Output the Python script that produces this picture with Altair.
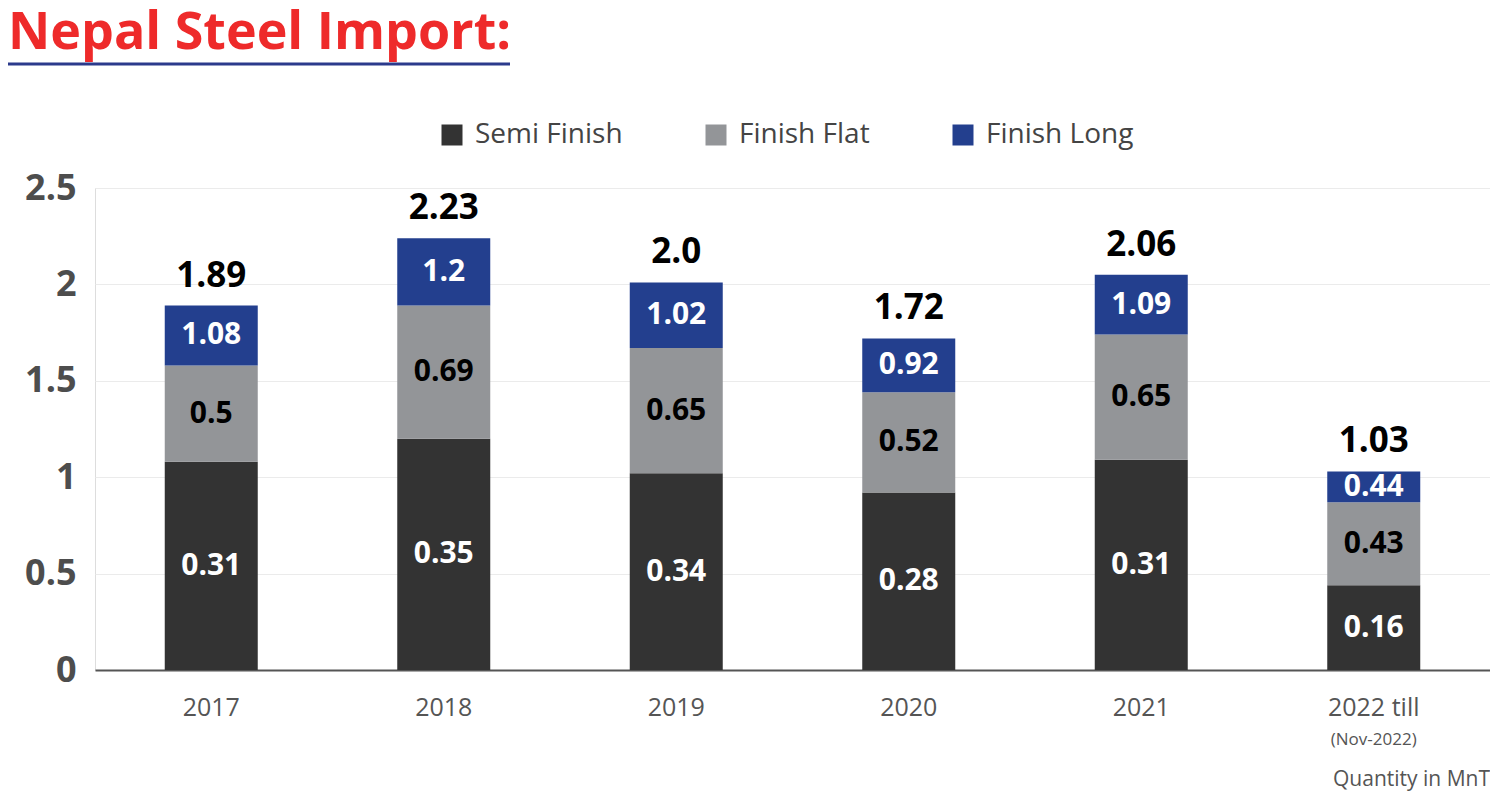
import altair as alt
import pandas as pd

FONT = "Open Sans"

years = ["2017", "2018", "2019", "2020", "2021", "2022 till"]
series = ["Semi Finish", "Finish Flat", "Finish Long"]
semi_finish = [0.31, 0.35, 0.34, 0.28, 0.31, 0.16]
finish_flat = [0.5, 0.69, 0.65, 0.52, 0.65, 0.43]
finish_long = [1.08, 1.2, 1.02, 0.92, 1.09, 0.44]
totals = [1.89, 2.23, 2.0, 1.72, 2.06, 1.03]
colors = ["#333333", "#939598", "#233F8E"]
label_colors = ["#ffffff", "#000000", "#ffffff"]

title_text = "Nepal Steel Import:"
note_text = "(Nov-2022)"
unit_text = "Quantity in MnT"

# In the source picture the bottom (dark) segment is drawn with the Finish Long
# size and the top (blue) one with the Semi Finish size, while their labels
# show the legend's series values.  Reproduce that as drawn.
rows = []
for i, yr in enumerate(years):
    heights = [finish_long[i], finish_flat[i], semi_finish[i]]
    labels = [semi_finish[i], finish_flat[i], finish_long[i]]
    base = 0.0
    for k, s in enumerate(series):
        rows.append(dict(year=yr, series=s, order=k, y0=base, y1=base + heights[k],
                         mid=base + heights[k] / 2, label=str(labels[k]),
                         lcolor=label_colors[k]))
        base += heights[k]
seg = pd.DataFrame(rows)
tops = seg.groupby("year", sort=False)["y1"].max().reindex(years).tolist()
tot = pd.DataFrame({"year": years, "top": tops, "label": [str(t) for t in totals]})

W, H = 1395, 482

xenc = alt.X("year:N", sort=years,
             scale=alt.Scale(paddingInner=0.6, paddingOuter=0.3),
             axis=alt.Axis(title=None, labelAngle=0, labelFontSize=25, labelFont=FONT,
                           labelColor="#555555", domainColor="#555555", domainWidth=2,
                           ticks=False, labelPadding=25, grid=False))
yscale = alt.Scale(domain=[0, 2.5], nice=False)

bars = alt.Chart(seg).mark_bar().encode(
    x=xenc,
    y=alt.Y("y0:Q", scale=yscale,
            axis=alt.Axis(values=[0, 0.5, 1, 1.5, 2, 2.5], format="~g", title=None,
                          labelFontSize=36, labelFontWeight="bold", labelFont=FONT,
                          labelColor="#4D4D4D", domain=False, ticks=False, tickSize=0,
                          labelPadding=19, gridColor="#EBEBEB", gridWidth=1)),
    y2="y1:Q",
    color=alt.Color("series:N", scale=alt.Scale(domain=series, range=colors),
                    legend=alt.Legend(title=None, orient="none", legendX=343, legendY=-67,
                                      direction="horizontal", symbolType="square",
                                      symbolSize=441, symbolStrokeWidth=0,
                                      labelFontSize=28, labelFont=FONT,
                                      labelColor="#444444", columnPadding=79,
                                      labelOffset=9)),
)

seg_labels = alt.Chart(seg).mark_text(fontSize=30, fontWeight="bold", font=FONT,
                                      baseline="middle").encode(
    x=alt.X("year:N", sort=years),
    y=alt.Y("mid:Q", scale=yscale),
    text="label:N",
    color=alt.Color("lcolor:N", scale=None, legend=None),
)

tot_labels = alt.Chart(tot).mark_text(fontSize=35, fontWeight="bold", font=FONT,
                                      baseline="alphabetic", dy=-19, color="#000000").encode(
    x=alt.X("year:N", sort=years),
    y=alt.Y("top:Q", scale=yscale),
    text="label:N",
)

note = alt.Chart(pd.DataFrame({"year": [years[-1]], "t": [note_text]})).mark_text(
    fontSize=17, font=FONT, color="#555555", baseline="middle").encode(
    x=alt.X("year:N", sort=years), y=alt.value(552), text="t:N")

unit = alt.Chart(pd.DataFrame({"t": [unit_text]})).mark_text(
    fontSize=21, font=FONT, color="#555555", align="right", baseline="alphabetic").encode(
    x=alt.value(W), y=alt.value(598), text="t:N")

title = alt.Chart(pd.DataFrame({"t": [title_text]})).mark_text(
    fontSize=52, fontWeight="bold", font=FONT, color="#EE2A2A", align="left",
    baseline="alphabetic").encode(x=alt.value(-87), y=alt.value(-139), text="t:N")

underline = alt.Chart(pd.DataFrame({"a": [0]})).mark_rule(
    color="#2B3A8C", strokeWidth=3).encode(
    x=alt.value(-87), x2=alt.value(415), y=alt.value(-124))

chart = alt.layer(bars, seg_labels, tot_labels, note, unit, title, underline).resolve_scale(
    color="independent"
).properties(
    width=W, height=H, autosize="none",
    padding={"left": 87, "top": 180, "right": 0, "bottom": 124},
).configure_view(stroke=None).configure(background="white")

chart.save("out.html", embed_options={"renderer": "svg", "actions": False})
